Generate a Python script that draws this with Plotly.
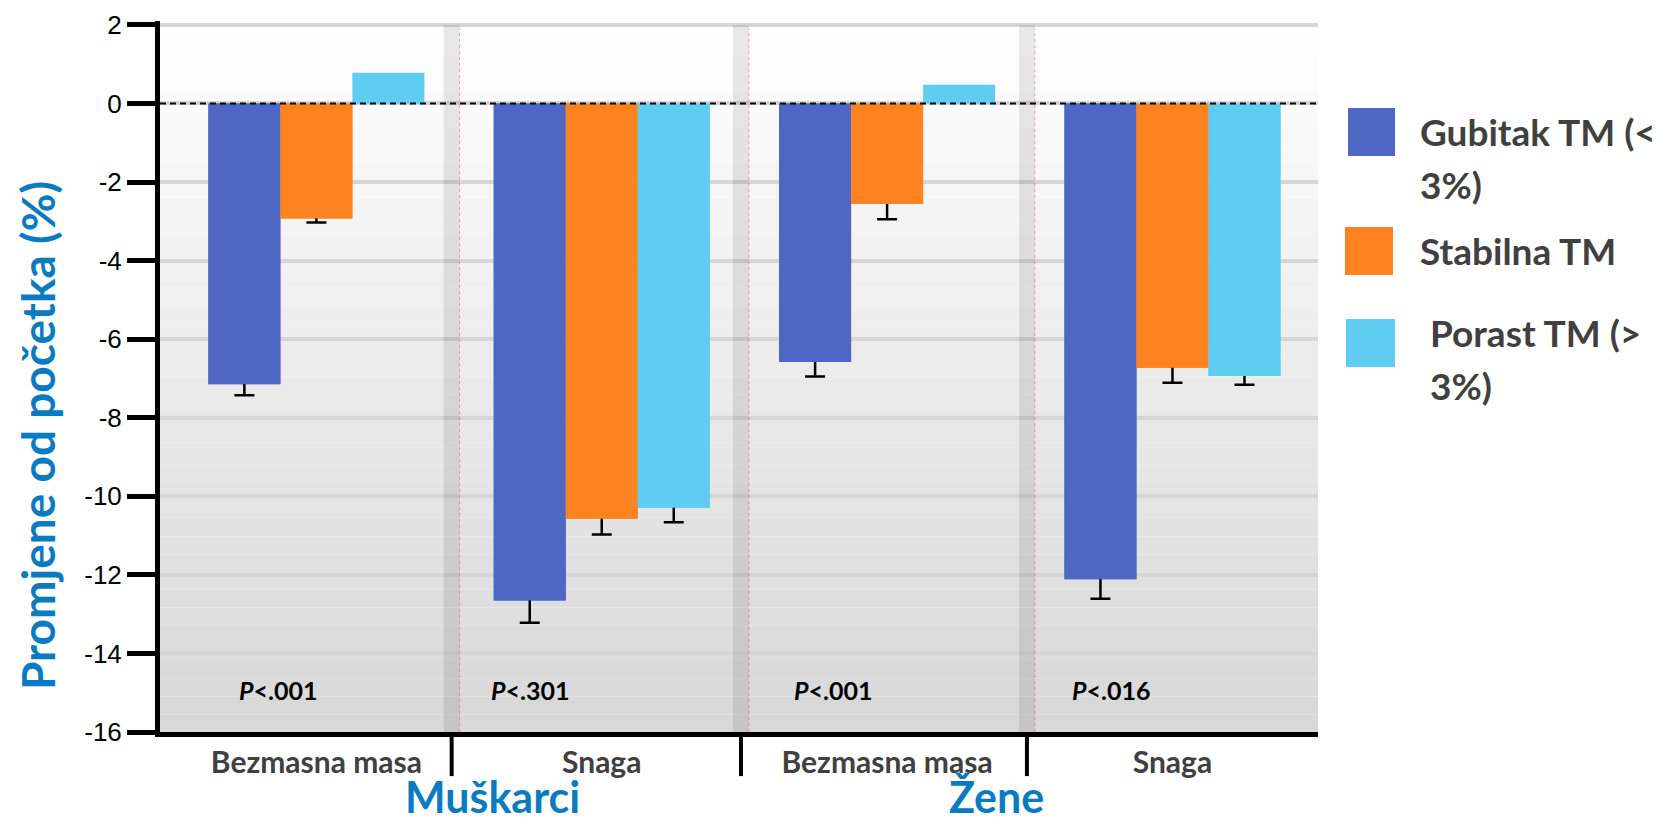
import plotly.graph_objects as go

# ---- data ----
categories = ["Bezmasna masa", "Snaga", "Bezmasna masa", "Snaga"]
series_names = ["Gubitak TM (<\n3%)", "Stabilna TM", "Porast TM (>\n3%)"]
gubitak = [-7.15, -12.65, -6.58, -12.11]
stabilna = [-2.93, -10.57, -2.56, -6.73]
porast = [0.78, -10.29, 0.48, -6.94]
gubitak_err = [0.28, 0.57, 0.37, 0.50]
stabilna_err = [0.10, 0.40, 0.39, 0.38]
porast_err = [0.0, 0.37, 0.0, 0.22]
p_values = ["<i>P</i>&lt;.001", "<i>P</i>&lt;.301", "<i>P</i>&lt;.001", "<i>P</i>&lt;.016"]
sex_groups = ["Muškarci", "Žene"]
y_title = "Promjene od početka (%)"
y_ticks = [2, 0, -2, -4, -6, -8, -10, -12, -14, -16]

colors = ["#4F67C4", "#FF8220", "#5FCDF2"]
blue_text = "#0B7BC1"
grey_text = "#404040"
FONT = "Lato"

x = list(range(len(categories)))
all_vals = [gubitak, stabilna, porast]
all_errs = [gubitak_err, stabilna_err, porast_err]

fig = go.Figure()
# traces carrying the (downward) error bars
for s, (vals, errs, col) in enumerate(zip(all_vals, all_errs, colors)):
    idx = [i for i in range(len(vals)) if errs[i] > 0]
    fig.add_trace(go.Bar(
        x=[x[i] for i in idx], y=[vals[i] for i in idx], offsetgroup=str(s),
        marker=dict(color=col, line=dict(width=0)),
        error_y=dict(type="data", symmetric=False, array=[0.2] * len(idx),
                     arrayminus=[errs[i] for i in idx], color="black", thickness=2.5, width=10),
        showlegend=False, hoverinfo="skip",
    ))
# visible bars (cover the upper part of the error bars)
for s, (vals, col, name) in enumerate(zip(all_vals, colors, series_names)):
    fig.add_trace(go.Bar(
        x=x, y=vals, name=name.replace("\n", " "), offsetgroup=str(s),
        marker=dict(color=col, line=dict(width=0)), showlegend=False,
    ))

# page geometry (px); body margin of the html page is 8px
OFF = 8
PW, PH = 1676, 824
L, R, T, B = 160, 1318, 21, 732
W, H = PW - OFF, PH - OFF
YMIN, YMAX = -16, 2.1
XMIN, XMAX = -0.548, 3.51
separators = [0.474, 1.488, 2.49]

shapes = []
# gradient background
N = 40
for i in range(N):
    y0 = YMAX - (YMAX - YMIN) * i / N
    y1 = YMAX - (YMAX - YMIN) * (i + 1) / N
    t = (i + 0.5) / N
    c = int(round(255 - (255 - 215) * t))
    shapes.append(dict(type="rect", xref="paper", yref="y", x0=0, x1=1, y0=y1, y1=y0,
                       fillcolor=f"rgb({c},{c},{c})", line=dict(width=0), layer="below"))
# group separator bands
for b in separators:
    shapes.append(dict(type="rect", xref="x", yref="y", x0=b - 0.028, x1=b + 0.028,
                       y0=YMIN, y1=2, fillcolor="rgba(0,0,0,0.085)", line=dict(width=0),
                       layer="between"))
    shapes.append(dict(type="line", xref="x", yref="y", x0=b + 0.028, x1=b + 0.028,
                       y0=YMIN, y1=1.9, line=dict(color="rgba(230,80,110,0.5)", width=1, dash="dot"),
                       layer="between"))
    # separator ticks below x axis
    shapes.append(dict(type="line", xref="x", yref="paper", x0=b, x1=b, y0=0, y1=-0.062,
                       line=dict(color="black", width=4)))
# zero dashed line
shapes.append(dict(type="line", xref="paper", yref="y", x0=0, x1=1, y0=0, y1=0,
                   line=dict(color="black", width=2, dash="6px,4px"), layer="above"))


def px2paper_x(px):
    return (px - L) / (R - L)


def px2paper_y(py):
    return (B - py) / (B - T)


# custom legend swatches
legend_boxes = [(1348, 1395, 108, 156), (1345, 1393, 227, 275), (1346, 1395, 319, 367)]
for (x0, x1, y0, y1), col in zip(legend_boxes, colors):
    shapes.append(dict(type="rect", xref="paper", yref="paper",
                       x0=px2paper_x(x0), x1=px2paper_x(x1), y0=px2paper_y(y1), y1=px2paper_y(y0),
                       fillcolor=col, line=dict(width=0)))

annotations = []
legend_text_pos = [(1418, 131), (1418, 250), (1428, 332)]
LEGEND_LINE = 53
for name, (lx, ly) in zip(series_names, legend_text_pos):
    for k, line in enumerate(name.split("\n")):
        annotations.append(dict(text=line, xref="paper", yref="paper",
                                x=px2paper_x(lx), y=px2paper_y(ly + k * LEGEND_LINE),
                                xanchor="left", yanchor="middle", align="left", showarrow=False,
                                font=dict(family=FONT, size=37, color=grey_text, weight="bold")))

# p-values
p_pos = [237, 489, 792, 1070]
for txt, px in zip(p_values, p_pos):
    annotations.append(dict(text=txt, xref="paper", yref="paper", x=px2paper_x(px),
                            y=px2paper_y(690), xanchor="left", yanchor="middle", showarrow=False,
                            font=dict(family=FONT, size=25, color="black", weight="bold")))

# sex group labels
for txt, px in zip(sex_groups, [492, 996]):
    annotations.append(dict(text=txt, xref="paper", yref="paper", x=px2paper_x(px),
                            y=px2paper_y(796), xanchor="center", yanchor="middle", showarrow=False,
                            font=dict(family=FONT, size=43, color=blue_text, weight="bold")))

# y axis title
annotations.append(dict(text=y_title, xref="paper", yref="paper", x=px2paper_x(37),
                        y=px2paper_y(436), xanchor="center", yanchor="middle", showarrow=False,
                        textangle=-90,
                        font=dict(family=FONT, size=46, color=blue_text, weight="bold")))

fig.update_layout(
    width=W, height=H,
    margin=dict(l=L - OFF, r=PW - R, t=T - OFF, b=PH - B, pad=0, autoexpand=False),
    paper_bgcolor="white", plot_bgcolor="white",
    barmode="group", bargap=0.243, bargroupgap=0,
    shapes=shapes, annotations=annotations,
    font=dict(family=FONT),
)
fig.update_xaxes(
    range=[XMIN, XMAX], tickvals=x, ticktext=categories, showgrid=False, zeroline=False,
    showline=True, linecolor="black", linewidth=5, ticks="", automargin=False,
    tickfont=dict(family=FONT, size=30, color=grey_text, weight="bold"),
    ticklabelstandoff=0,
)
fig.update_yaxes(
    range=[YMIN, YMAX], tickvals=y_ticks, ticktext=[str(v) for v in y_ticks],
    showgrid=True, gridcolor="#D6D6D6", gridwidth=4, automargin=False,
    zeroline=False, showline=True, linecolor="black", linewidth=5,
    ticks="outside", ticklen=28, tickwidth=5, tickcolor="black",
    tickfont=dict(family="Liberation Sans", size=26, color="black"),
)

fig.write_html("out.html")
